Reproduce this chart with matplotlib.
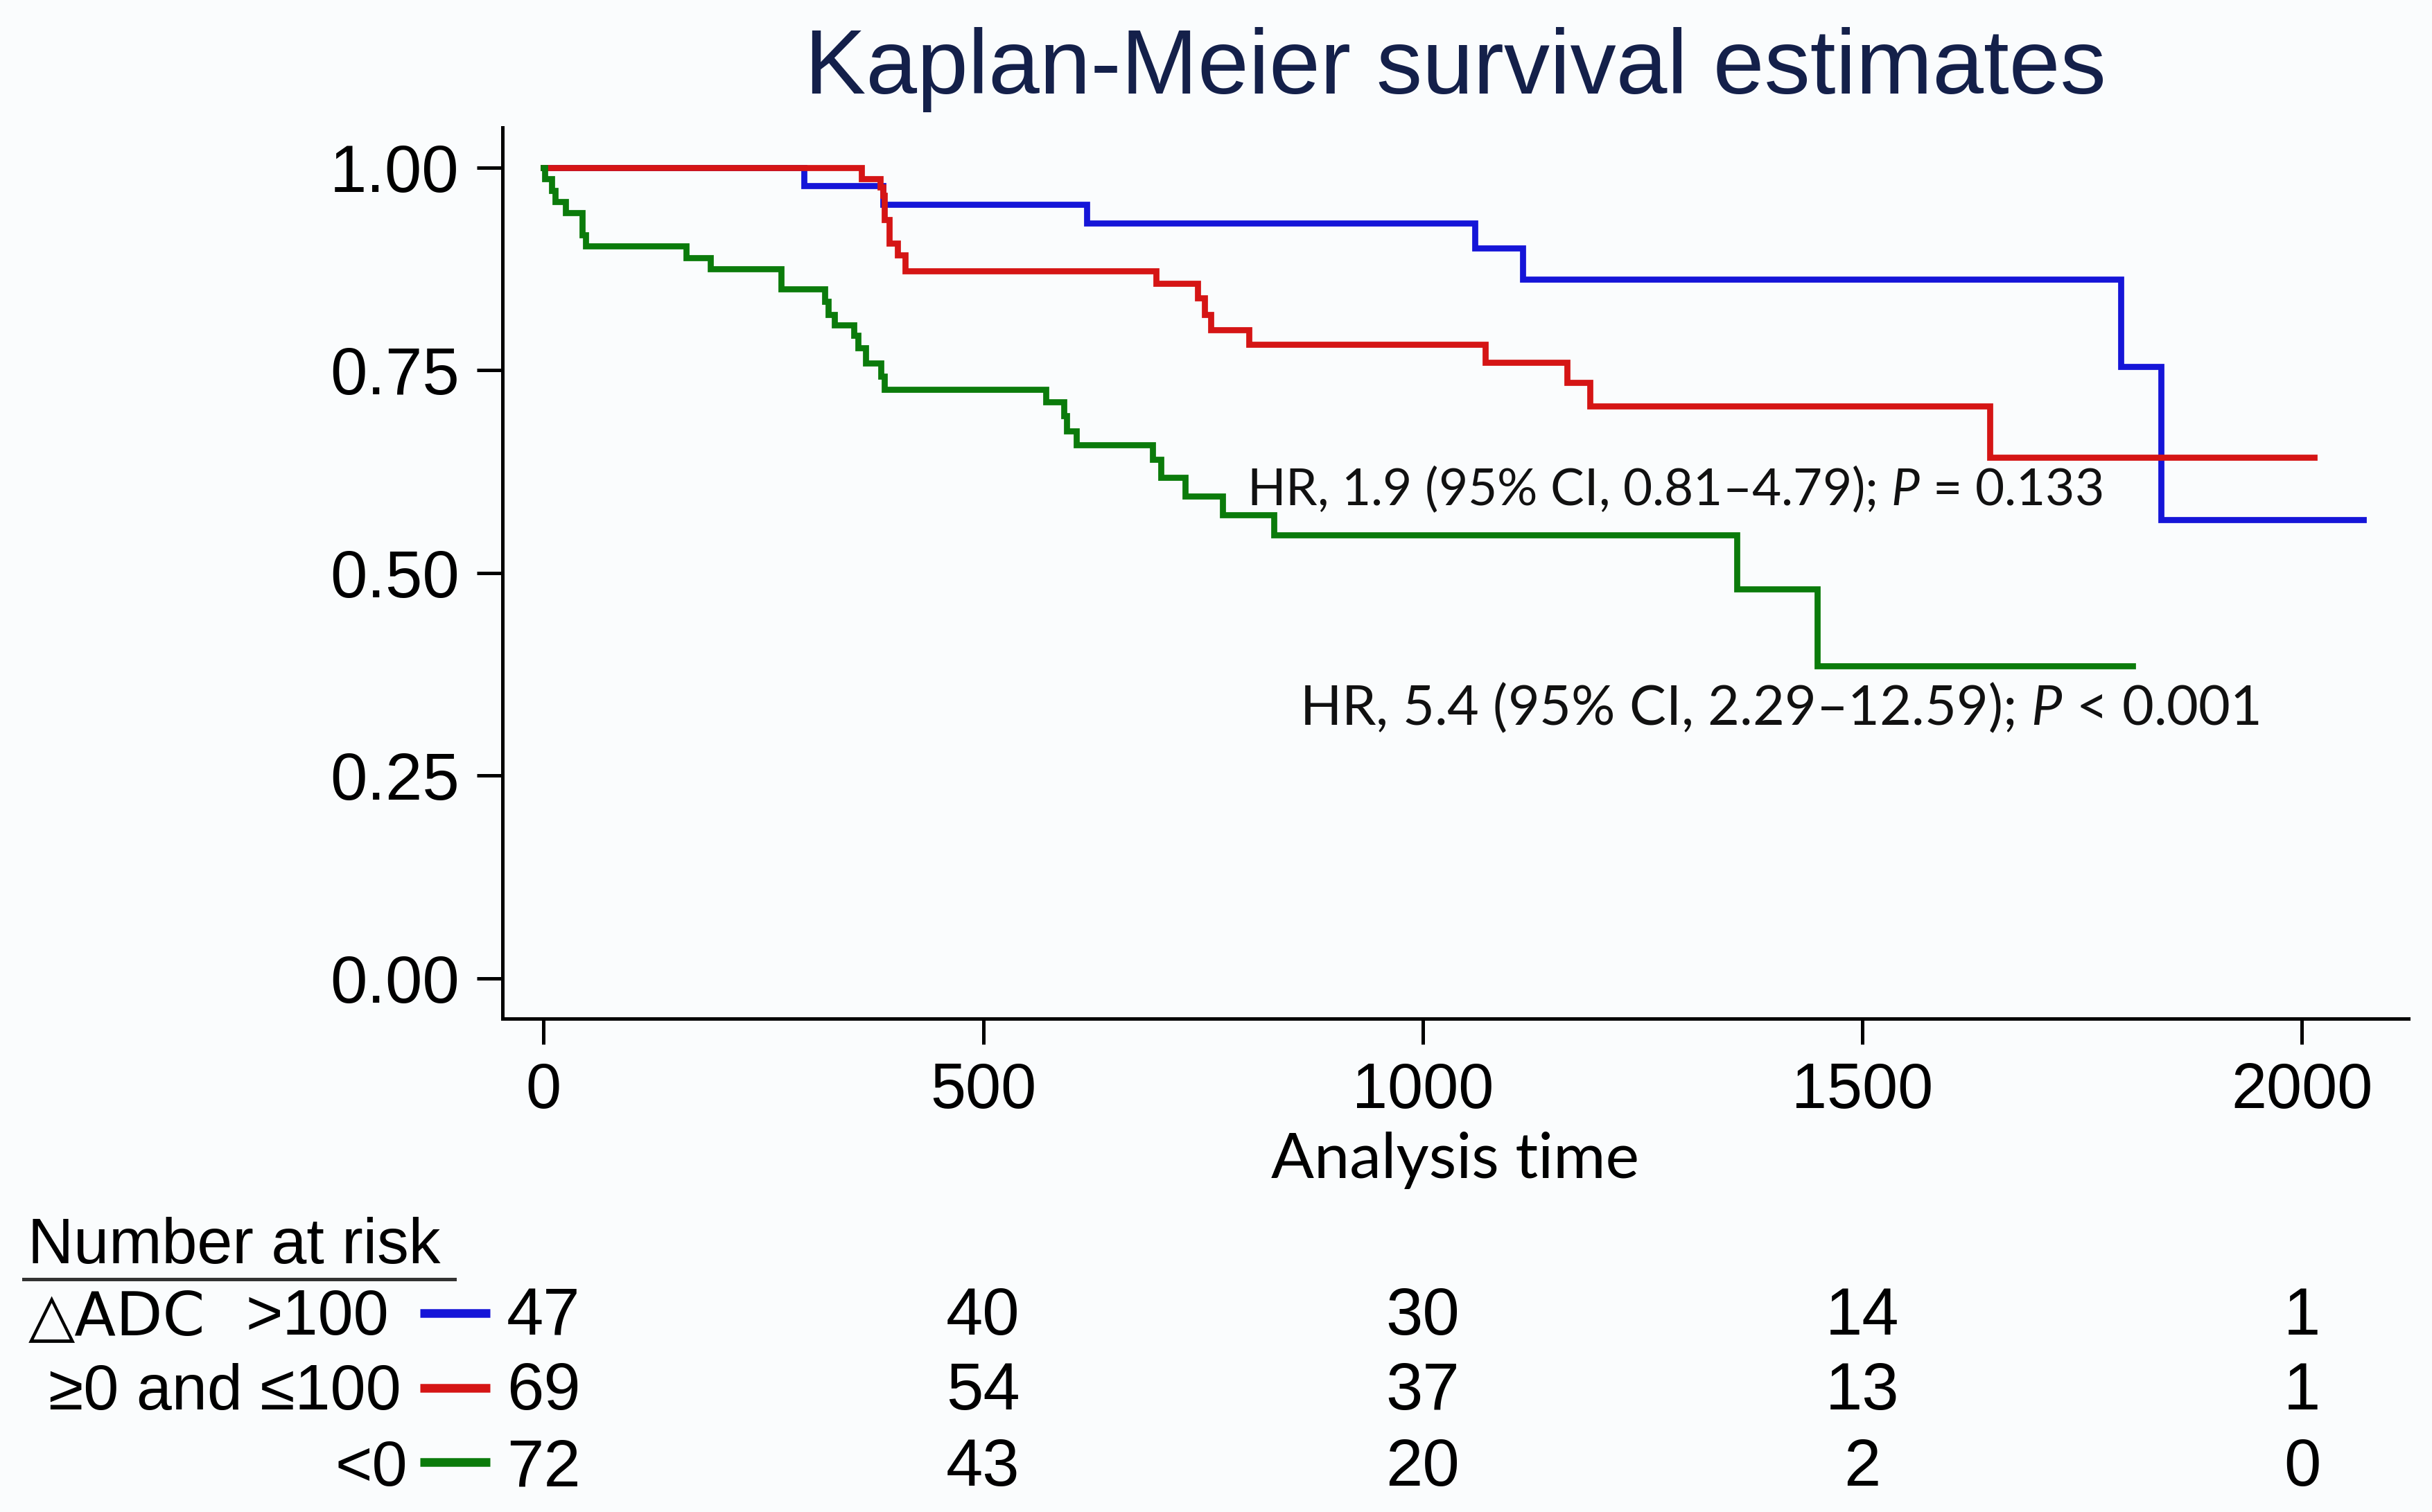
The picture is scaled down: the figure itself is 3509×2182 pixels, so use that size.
import matplotlib
matplotlib.use("Agg")
import matplotlib.pyplot as plt
import matplotlib.transforms as mtransforms
from matplotlib.lines import Line2D

# Kaplan-Meier step data
blue_t = [0, 296, 386, 618, 1059, 1114, 1794, 1840, 2070]
blue_s = [1.0, 0.978, 0.955, 0.932, 0.901, 0.862, 0.755, 0.566, 0.566]

red_t = [0, 362, 383, 386, 388, 393, 403, 411, 697, 744, 752, 759, 802,
         1071, 1164, 1190, 1645, 2014]
red_s = [1.0, 0.986, 0.976, 0.966, 0.936, 0.907, 0.892, 0.873, 0.857, 0.839,
         0.819, 0.800, 0.782, 0.760, 0.735, 0.706, 0.643, 0.643]

green_t = [0, 1, 9, 13, 25, 44, 48, 162, 190, 270, 320, 324, 331, 353, 358,
           366, 384, 388, 571, 592, 595, 606, 693, 702, 730, 772, 831, 1357,
           1449, 1807]
green_s = [1.0, 0.986, 0.972, 0.958, 0.944, 0.917, 0.903, 0.889, 0.875, 0.850,
           0.835, 0.819, 0.806, 0.793, 0.778, 0.759, 0.743, 0.726, 0.711, 0.694,
           0.675, 0.658, 0.640, 0.618, 0.595, 0.572, 0.547, 0.480, 0.385, 0.385]

x_ticks = [0, 500, 1000, 1500, 2000]
y_ticks = [0.0, 0.25, 0.5, 0.75, 1.0]

groups = [">100", "\u22650 and \u2264100", "<0"]
colors = ["#1515d8", "#d51515", "#0b7b0b"]
at_risk = [[47, 40, 30, 14, 1],
           [69, 54, 37, 13, 1],
           [72, 43, 20, 2, 0]]

hr_texts = ["HR, 1.9 (95% CI, 0.81\u20134.79); $\\mathit{P}$ = 0.133",
            "HR, 5.4 (95% CI, 2.29\u201312.59); $\\mathit{P}$ < 0.001"]
hr_pos = [(800, 0.583), (860, 0.312)]
hr_size = [17.5, 19]

# Fonts
plt.rcParams['font.family'] = ['Liberation Sans', 'DejaVu Sans']
plt.rcParams['mathtext.fontset'] = 'custom'
plt.rcParams['mathtext.rm'] = 'Lato'
plt.rcParams['mathtext.it'] = 'Lato:italic'

bg = "#fafcfd"
fig = plt.figure(figsize=(3509 / 300, 2182 / 300), dpi=300, facecolor=bg)
ax = fig.add_axes([0.2065, 0.3263, 0.9903 - 0.2065, 0.9159 - 0.3263])
ax.set_facecolor(bg)

# Curves
for t, s, c in zip([blue_t, red_t, green_t], [blue_s, red_s, green_s], colors):
  ax.step(t, s, where='post', color=c, lw=2.1, solid_joinstyle='miter')

# Axes styling
ax.set_xlim(-47, 2121)
ax.set_ylim(-0.05, 1.05)
ax.set_xticks(x_ticks)
ax.set_yticks(y_ticks)
ax.set_yticklabels(["%.2f" % v for v in y_ticks])
for side in ['top', 'right']:
  ax.spines[side].set_visible(False)
for side in ['left', 'bottom']:
  ax.spines[side].set_linewidth(1.2)
ax.tick_params(axis='both', length=8.9, width=1.2, pad=6)
ax.tick_params(axis='x', labelsize=22)
ax.tick_params(axis='y', labelsize=23)

# HR annotations
for txt, (tx, ty), fs in zip(hr_texts, hr_pos, hr_size):
  ax.text(tx, ty, txt, fontsize=fs, family=['Lato', 'DejaVu Sans'],
          ha='left', va='baseline', color='#111111')

# Title and x label
cx = (0.2065 + 0.9903) / 2
fig.text(cx, 0.938, "Kaplan-Meier survival estimates", fontsize=31.8,
         color='#14204a', ha='center', va='baseline')
fig.text(cx, 0.221, "Analysis time", fontsize=22, family=['Lato', 'DejaVu Sans'],
         ha='center', va='baseline')

# Number at risk table
fig.text(0.0115, 0.1645, "Number at risk", fontsize=22, ha='left', va='baseline')
fig.add_artist(Line2D([0.0096, 0.187], [0.154, 0.154], color='#333333', lw=1.2))
fig.text(0.0115, 0.1173, "\u25b3ADC", fontsize=21, ha='left', va='baseline',
         family=['DejaVu Sans', 'Liberation Sans'])
row_base = [0.1173, 0.0678, 0.0174]
row_mid = [0.1315, 0.082, 0.033]
row_right = [0.160, 0.165, 0.1677]
num_trans = mtransforms.blended_transform_factory(ax.transData, fig.transFigure)
for i, g in enumerate(groups):
  fig.text(row_right[i], row_base[i], g, fontsize=22, ha='right', va='baseline',
           family=['Liberation Sans', 'DejaVu Sans'])
  fig.add_artist(Line2D([0.1727, 0.2015], [row_mid[i], row_mid[i]],
                        color=colors[i], lw=3, solid_capstyle='butt'))
  for t, n in zip(x_ticks, at_risk[i]):
    ax.text(t, row_base[i], str(n), fontsize=23, ha='center', va='baseline',
            transform=num_trans, clip_on=False)

plt.savefig("out.png", dpi=300, facecolor=bg)
